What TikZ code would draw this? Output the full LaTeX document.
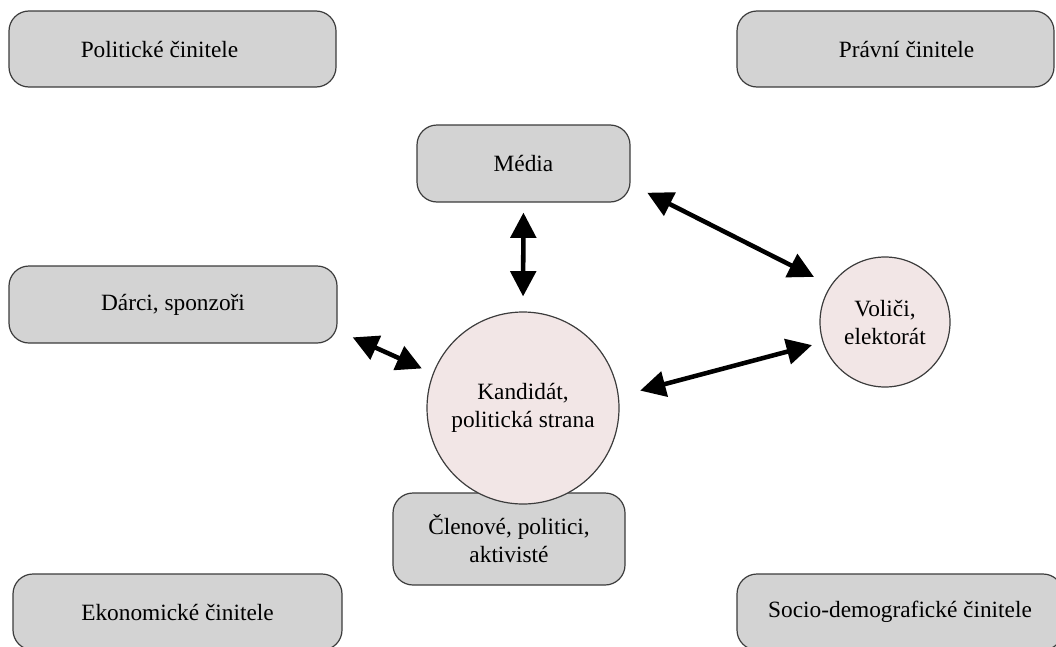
\documentclass[tikz,border=0pt]{standalone}
\usepackage{fontspec}
\setmainfont{Liberation Serif}
\usetikzlibrary{arrows.meta}
\definecolor{boxfill}{HTML}{D3D3D3}
\definecolor{circfill}{HTML}{F2E6E6}
\definecolor{edge}{HTML}{3C3C3C}
\begin{document}
\begin{tikzpicture}[x=0.75pt,y=-0.75pt,
  every node/.style={font=\fontsize{17.5pt}{21pt}\selectfont, text=black, align=center},
  boxnode/.style={rectangle, rounded corners=15pt, draw=edge, line width=0.9pt, fill=boxfill, inner sep=0pt},
  circnode/.style={circle, draw=edge, line width=0.9pt, fill=circfill, inner sep=0pt},
  arr/.style={line width=3.4pt, {Triangle[length=19pt,width=19pt]}-{Triangle[length=19pt,width=19pt]}}]
\useasboundingbox (0,0) rectangle (1056,646);
\clip (0,0) rectangle (1056,646);
% boxes
\node[boxnode, minimum width=245.25pt, minimum height=57pt] (pol) at (172.5,49) {\hspace*{-19.5pt}Politické činitele};
\node[boxnode, minimum width=237.75pt, minimum height=57pt] (prav) at (895.5,49) {\hspace*{16.5pt}Právní činitele};
\node[boxnode, minimum width=159.75pt, minimum height=57.75pt] (media) at (523.5,163.5) {Média};
\node[boxnode, minimum width=246pt, minimum height=57.75pt] (dar) at (173,304.5) {Dárci, sponzoři};
\node[boxnode, minimum width=246.75pt, minimum height=57pt] (eko) at (177.5,612) {Ekonomické činitele};
\node[boxnode, minimum width=244.5pt, minimum height=57pt] (soc) at (900,612) {Socio-demografické činitele};
\node[boxnode, minimum width=174pt, minimum height=69pt] (clen) at (509,539) {Členové, politici,\\aktivisté};
% circles
\node[circnode, minimum size=144pt] (kand) at (523,408) {Kandidát,\\politická strana};
\node[circnode, minimum size=97.5pt] (vol) at (885,322) {Voliči,\\elektorát};
% arrows
\draw[arr, shorten <=7.5pt, shorten >=11.25pt] (media.south) -- (kand.north);
\draw[arr, shorten <=14pt, shorten >=14pt] (media.-11) -- (vol.146);
\draw[arr, shorten <=12.4pt, shorten >=9pt] (dar.-9) -- (kand.159);
\draw[arr, shorten <=16.5pt, shorten >=8.25pt] (kand.7) -- (vol.198);
\end{tikzpicture}
\end{document}
